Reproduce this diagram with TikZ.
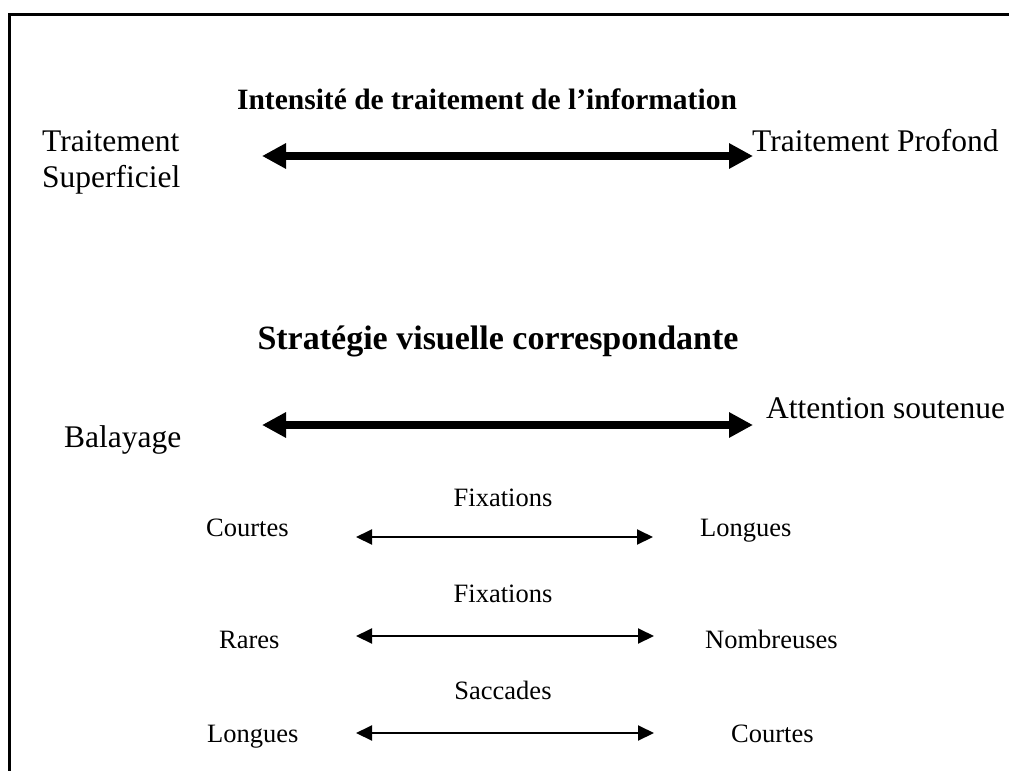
\documentclass[tikz,border=0pt]{standalone}
\usepackage{fontspec}
\setmainfont{Liberation Serif}
\usetikzlibrary{arrows.meta}
\begin{document}
\begin{tikzpicture}[x=1pt,y=-1pt,
  big/.style={inner sep=0pt,font=\fontsize{31.5}{36}\selectfont},
  title/.style={inner sep=0pt,font=\fontsize{29.5}{35}\selectfont\bfseries},
  bigtitle/.style={inner sep=0pt,font=\fontsize{34}{40}\selectfont\bfseries},
  small/.style={inner sep=0pt,font=\fontsize{26.5}{31}\selectfont},
  thick arrow/.style={line width=8pt,{Triangle[length=24pt,width=24pt]}-{Triangle[length=24pt,width=24pt]}},
  thin arrow/.style={line width=2pt,{Triangle[length=16pt,width=15pt]}-{Triangle[length=16pt,width=15pt]}},
  frame/.style={line width=3pt}]
\useasboundingbox (0,0) rectangle (1009,771);
\coordinate (ftr) at (1009,14);
\coordinate (ftl) at (9,14);
\coordinate (fbl) at (9,771);
\draw[frame] (ftr) -- (ftl) -- (fbl);

\node[title,anchor=base] (t1) at (487,109) {Intensité de traitement de l’information};
\node[big,anchor=base west] (ts) at (42,151) {Traitement};
\node[big,anchor=base west] (ts2) at (42,187) {Superficiel};
\node[big,anchor=base west] (tp) at (752,151) {Traitement Profond};
\coordinate (a1l) at (262,156);
\coordinate (a1r) at (753,156);
\draw[thick arrow] (a1l) -- (a1r);

\node[bigtitle,anchor=base] (t2) at (498,349) {Stratégie visuelle correspondante};
\node[big,anchor=base west] (bal) at (64,447) {Balayage};
\node[big,anchor=base west] (att) at (766,418) {Attention soutenue};
\coordinate (a2l) at (262,425);
\coordinate (a2r) at (753,425);
\draw[thick arrow] (a2l) -- (a2r);

\node[small,anchor=base] (f1) at (503,506) {Fixations};
\node[small,anchor=base west] (c1) at (206,536) {Courtes};
\node[small,anchor=base west] (l1) at (700,536) {Longues};
\coordinate (b1l) at (356,537);
\coordinate (b1r) at (653,537);
\draw[thin arrow] (b1l) -- (b1r);

\node[small,anchor=base] (f2) at (503,602) {Fixations};
\node[small,anchor=base west] (r2) at (219,648) {Rares};
\node[small,anchor=base west] (n2) at (705,648) {Nombreuses};
\coordinate (b2l) at (356,636);
\coordinate (b2r) at (654,636);
\draw[thin arrow] (b2l) -- (b2r);

\node[small,anchor=base] (s3) at (503,699) {Saccades};
\node[small,anchor=base west] (l3) at (207,742) {Longues};
\node[small,anchor=base west] (c3) at (731,742) {Courtes};
\coordinate (b3l) at (356,733);
\coordinate (b3r) at (654,733);
\draw[thin arrow] (b3l) -- (b3r);
\end{tikzpicture}
\end{document}
